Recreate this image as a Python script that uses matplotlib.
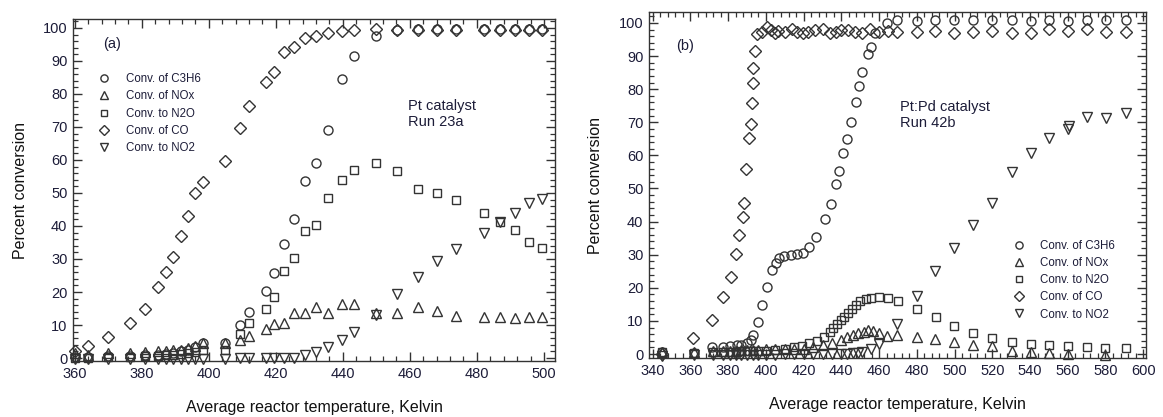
import numpy as np
import matplotlib
matplotlib.use('Agg')
import matplotlib.pyplot as plt
from matplotlib.ticker import MultipleLocator

plt.rcParams['font.family'] = ['Liberation Sans', 'DejaVu Sans']

# ── Panel (a): Pt catalyst, Run 23a ───────────────────────────────────────────
temp_a = [360, 364, 370, 376.6, 381, 385, 387.2, 389.3, 391.6, 393.7, 395.8, 398.2,
          404.8, 409.3, 412, 417, 419.5, 422.4, 425.4, 428.7, 432, 435.5, 439.7,
          443.3, 450, 456.2, 462.5, 468.2, 473.8, 482, 487, 491.5, 495.5, 499.5]
c3h6_a = [0.3, 0.3, 0.5, 0.5, 0.8, 1.0, 1.2, 1.5, 2.0, 2.5, 3.3, 4.5,
          4.5, 10.0, 14.0, 20.3, 25.7, 34.5, 42.0, 53.6, 59.0, 69.0, 84.5,
          91.5, 97.6, 99.5, 99.6, 99.6, 99.6, 99.6, 99.6, 99.6, 99.6, 99.6]
nox_a = [1.5, 1.0, 1.5, 1.5, 1.8, 2.0, 2.0, 2.3, 2.5, 3.0, 3.5, 4.5,
         4.5, 5.5, 6.7, 8.8, 10.3, 10.6, 13.6, 13.6, 15.5, 13.6, 16.3,
         16.3, 13.6, 13.6, 15.5, 14.3, 12.7, 12.4, 12.4, 12.0, 12.4, 12.4]
n2o_a = [0.0, 0.0, 0.3, 0.3, 0.5, 0.7, 0.8, 1.0, 1.2, 1.5, 1.8, 2.4,
         2.4, 7.3, 10.6, 15.0, 18.5, 26.4, 30.3, 38.5, 40.3, 48.5, 54.0,
         57.0, 59.0, 56.7, 51.2, 50.0, 48.0, 43.9, 41.2, 38.8, 35.0, 33.3]
co_a = [2.0, 3.5, 6.4, 10.6, 15.0, 21.5, 26.0, 30.6, 37.0, 43.0, 50.0, 53.3,
        59.7, 69.7, 76.4, 83.6, 86.7, 92.7, 94.2, 97.0, 97.6, 98.5, 99.0,
        99.4, 99.7, 99.5, 99.5, 99.5, 99.5, 99.5, 99.5, 99.5, 99.5, 99.5]
no2_a = [-0.3, -0.3, -0.3, -0.3, -0.3, -0.3, -0.3, -0.3, -0.3, -0.3, -0.3, -0.3,
         -0.3, 0.0, 0.0, 0.0, 0.0, 0.0, 0.0, 0.8, 1.8, 3.3, 5.6,
         7.8, 13.0, 19.4, 24.5, 29.4, 33.0, 38.0, 41.2, 43.9, 47.0, 48.3]

# ── Panel (b): Pt:Pd catalyst, Run 42b ────────────────────────────────────────
temp_b_co = [345, 361.2, 371.3, 377.1, 381.4, 384, 385.6, 387.7, 388.3, 389.3, 391,
             392, 392.5, 393, 393.3, 394, 395.3, 397.8, 400.5, 402.6, 404.7, 406.3,
             410, 413.7, 416.4, 419.6, 422.2, 426, 430, 434, 437, 440, 443.4, 447,
             450.9, 455, 460, 464.7, 469.4, 480, 489.6, 499.7, 509.8, 520, 530.4,
             540.5, 550, 560, 570, 580.3, 591]
co_b = [0.0, 4.8, 10.3, 17.2, 23.3, 30.2, 36.0, 41.4, 45.6, 55.9, 65.3,
        69.5, 75.8, 81.9, 86.4, 91.5, 96.7, 97.3, 98.8, 97.9, 97.0, 97.6,
        97.3, 98.2, 97.3, 97.0, 97.3, 97.9, 98.2, 97.0, 97.3, 97.9, 97.9, 97.3,
        97.0, 98.2, 97.3, 97.6, 97.3, 97.3, 97.6, 97.0, 97.3, 97.6, 97.0,
        97.0, 98.2, 97.6, 98.2, 97.3, 97.3]

temp_b_c3h6 = [345, 362, 371.3, 377, 381, 384.5, 387, 389.8, 392, 393, 395.7, 397.8,
               400.5, 403.1, 405.3, 406.8, 409.5, 413.2, 416.4, 419.6, 422.8, 426.5,
               431.2, 434.4, 437, 438.7, 440.8, 442.9, 445, 447.7, 449.3, 450.9,
               454, 455.6, 458, 464, 469.4, 480, 489.6, 499.7, 509.8, 520, 530.4,
               540.5, 550, 560, 570, 580.3, 591]
c3h6_b = [0.5, 0.3, 2.1, 2.0, 2.4, 2.6, 2.8, 3.3, 4.2, 5.7, 9.7, 14.8,
          20.3, 25.4, 27.5, 29.0, 29.6, 29.9, 30.2, 30.5, 32.3, 35.3,
          40.8, 45.3, 51.4, 55.3, 60.7, 65.0, 70.0, 76.1, 81.0, 85.2,
          90.6, 92.7, 97.0, 100.0, 100.9, 100.6, 100.9, 100.9, 100.9, 100.9, 100.9,
          100.6, 100.9, 100.6, 100.9, 100.9, 100.9]

temp_b_nox = [345, 362, 372, 377, 381, 384, 387, 390, 393, 396, 400, 405, 410,
              415, 420, 425, 430, 435, 440, 443, 446, 449, 452, 454, 457, 460,
              464.1, 469.4, 480, 489.6, 499.7, 509.8, 520, 530.4, 540.5, 550,
              560, 580]
nox_b = [0.5, 0.5, 0.8, 0.8, 1.0, 1.0, 1.2, 1.2, 1.3, 1.3, 1.5, 1.5, 1.5,
         1.5, 1.6, 2.0, 2.6, 3.3, 4.2, 5.0, 5.8, 6.4, 6.8, 7.3, 7.0, 6.4,
         5.4, 5.7, 5.1, 4.5, 3.6, 2.7, 2.5, 0.9, 0.6, 0.3,
         0.0, -0.3]

temp_b_n2o = [345, 362, 372, 377, 381, 384, 387, 390, 393, 396, 400, 405, 410,
              415, 419, 422.8, 427, 431, 434, 435.6, 437.6, 439.7, 441.3, 443.4,
              445.6, 447.7, 449.8, 453, 455.6, 460, 464.7, 470, 480, 490, 499.7,
              509.8, 520, 530.4, 540.5, 550, 560, 570, 580, 591]
n2o_b = [0.5, 0.3, 0.5, 0.5, 0.6, 0.7, 0.8, 0.9, 1.0, 1.0, 1.0, 1.2, 1.5,
         2.0, 2.4, 3.3, 3.9, 5.1, 6.6, 7.9, 9.0, 10.3, 11.2, 12.4,
         13.6, 14.8, 16.0, 16.6, 16.9, 17.2, 16.9, 16.0, 13.6, 11.2, 8.5,
         6.3, 4.8, 3.6, 3.0, 2.7, 2.4, 2.1, 1.8, 1.8]

temp_b_no2 = [345, 362, 372, 377, 381, 384, 387, 390, 393, 396, 400, 405, 410,
              415, 420, 425, 430, 435, 440, 443, 446, 449, 451, 455.6, 460,
              469.4, 480, 489.6, 499.7, 509.8, 520, 530.4, 540.5, 550, 560,
              560.5, 570, 580.3, 591]
no2_b = [-0.5, -0.3, -0.3, -0.3, -0.3, -0.3, -0.3, -0.3, -0.3, -0.3, -0.2, -0.2, -0.1,
         0.0, 0.0, 0.0, 0.0, 0.0, 0.0, 0.1, 0.2, 0.4, 0.6, 1.5, 3.0,
         9.0, 17.5, 25.0, 32.0, 39.0, 45.7, 55.0, 60.7, 65.3, 68.0,
         69.0, 71.6, 71.3, 72.8]

labels = ['Conv. of C3H6', 'Conv. of NOx', 'Conv. to N2O', 'Conv. of CO', 'Conv. to NO2']
markers = ['o', '^', 's', 'D', 'v']
msizes = [6.5, 6.5, 5.8, 5.8, 6.5]

EDGE = '#333333'
TXT = '#1c1c38'

fig = plt.figure(figsize=(11.63, 4.17), dpi=100)
ax_a = fig.add_axes([0.0628, 0.1343, 0.4144, 0.8201])
ax_b = fig.add_axes([0.558, 0.1415, 0.4274, 0.8297])

series_a = [(temp_a, c3h6_a), (temp_a, nox_a), (temp_a, n2o_a), (temp_a, co_a), (temp_a, no2_a)]
series_b = [(temp_b_c3h6, c3h6_b), (temp_b_nox, nox_b), (temp_b_n2o, n2o_b),
            (temp_b_co, co_b), (temp_b_no2, no2_b)]


def draw(ax, series):
    handles = []
    for (x, y), m, ms, lab in zip(series, markers, msizes, labels):
        h, = ax.plot(x, y, linestyle='none', marker=m, markersize=ms,
                     markerfacecolor='none', markeredgecolor=EDGE,
                     markeredgewidth=1.0, label=lab, clip_on=False)
        handles.append(h)
    ax.yaxis.set_major_locator(MultipleLocator(10))
    ax.yaxis.set_minor_locator(MultipleLocator(2))
    ax.xaxis.set_major_locator(MultipleLocator(20))
    ax.xaxis.set_minor_locator(MultipleLocator(4))
    ax.tick_params(which='both', direction='in', top=True, right=True,
                   colors=EDGE, labelcolor=TXT, labelsize=10.5)
    ax.tick_params(which='major', length=6.5, width=1.0, pad=4)
    ax.tick_params(which='minor', length=3.5, width=0.9)
    for sp in ax.spines.values():
        sp.set_color(EDGE)
        sp.set_linewidth(1.0)
    ax.set_xlabel('Average reactor temperature, Kelvin', fontsize=11.5, color='#111111',
                  labelpad=14)
    ax.set_ylabel('Percent conversion', fontsize=11.5, color='#111111', labelpad=11)
    return handles


ha = draw(ax_a, series_a)
ax_a.set_xlim(359.5, 503.3)
ax_a.set_ylim(-0.9, 102.7)
ax_a.text(0.062, 0.915, '(a)', transform=ax_a.transAxes, fontsize=10.5, color=TXT)
ax_a.text(0.695, 0.765, 'Pt catalyst\nRun 23a', transform=ax_a.transAxes,
          fontsize=10.5, color=TXT, va='top', linespacing=1.15)
ax_a.legend(handles=ha, loc='upper left', bbox_to_anchor=(0.03, 0.865), frameon=False,
            fontsize=8.3, labelcolor=TXT, handletextpad=1.1, labelspacing=0.45,
            handlelength=1.5, borderpad=0.2, markerscale=0.8)

hb = draw(ax_b, series_b)
ax_b.set_xlim(338, 601.5)
ax_b.set_ylim(-1.2, 103.3)
ax_b.text(0.055, 0.89, '(b)', transform=ax_b.transAxes, fontsize=10.5, color=TXT)
ax_b.text(0.505, 0.745, 'Pt:Pd catalyst\nRun 42b', transform=ax_b.transAxes,
          fontsize=10.5, color=TXT, va='top', linespacing=1.15)
ax_b.legend(handles=hb, loc='upper left', bbox_to_anchor=(0.71, 0.365), frameon=False,
            fontsize=8.3, labelcolor=TXT, handletextpad=1.1, labelspacing=0.45,
            handlelength=1.5, borderpad=0.2, markerscale=0.8)

fig.savefig('out.png', dpi=100)
